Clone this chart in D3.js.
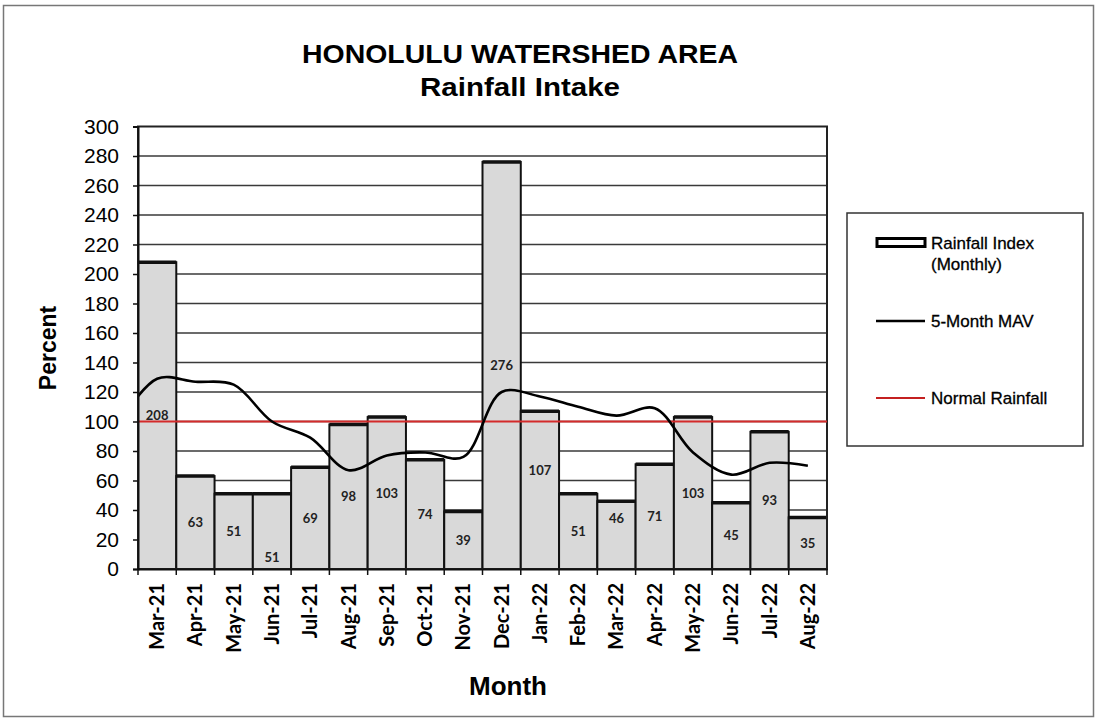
<!DOCTYPE html>
<html>
<head>
<meta charset="utf-8">
<script src="https://cdn.jsdelivr.net/npm/d3@7"></script>
<style>
  html, body { margin: 0; padding: 0; background: #fff; }
  svg { display: block; }
</style>
</head>
<body>
<svg id="chart" width="1098" height="721"></svg>
<script>
// ---- data ----
const months = ["Mar-21","Apr-21","May-21","Jun-21","Jul-21","Aug-21","Sep-21","Oct-21","Nov-21",
                "Dec-21","Jan-22","Feb-22","Mar-22","Apr-22","May-22","Jun-22","Jul-22","Aug-22"];
const rainfallIndex = [208, 63, 51, 51, 69, 98, 103, 74, 39, 276, 107, 51, 46, 71, 103, 45, 93, 35];
// 5-month moving average; first value is the lead-in point (Feb-21)
const mavMonths = ["Feb-21", ...months];
const mavValues = [99, 129, 127, 125, 100, 89, 67, 77, 79, 76, 120, 117, 110, 104, 109, 79, 64, 72, 70];
const normalRainfall = 100;
const yTicks = [0,20,40,60,80,100,120,140,160,180,200,220,240,260,280,300];
// label anchor (in data units) where the label is not centred in its bar
const labelAt = {"Jun-21": 8, "Jan-22": 67, "Mar-22": 34};

// ---- layout ----
const svg = d3.select("#chart");
const L = 138, R = 827, T = 126.5, B = 569;

const x = d3.scaleBand().domain(months).range([L, R]).padding(0);
const y = d3.scaleLinear().domain([0, 300]).range([B, T]);
const bw = x.bandwidth();
const xi = d3.scaleLinear().domain([1, months.length]).range([x(months[0]) + bw/2, x(months[months.length-1]) + bw/2]);

// outer frame
svg.append("rect").attr("x", 3.5).attr("y", 5.5).attr("width", 1090).attr("height", 711)
  .attr("fill", "none").attr("stroke", "#777").attr("stroke-width", 1.5);

// title
svg.append("text").attr("x", 520).attr("y", 63).attr("text-anchor", "middle")
  .attr("font-family", "Liberation Sans, Arial, sans-serif").attr("font-weight", "bold")
  .attr("font-size", 25).attr("textLength", 436).attr("lengthAdjust", "spacingAndGlyphs")
  .text("HONOLULU WATERSHED AREA");
svg.append("text").attr("x", 520).attr("y", 96).attr("text-anchor", "middle")
  .attr("font-family", "Liberation Sans, Arial, sans-serif").attr("font-weight", "bold")
  .attr("font-size", 25).attr("textLength", 200).attr("lengthAdjust", "spacingAndGlyphs")
  .text("Rainfall Intake");

// clip
svg.append("clipPath").attr("id", "plotclip").append("rect")
  .attr("x", L).attr("y", T).attr("width", R - L).attr("height", B - T);

// gridlines
svg.append("g").selectAll("line").data(yTicks.filter(v => v > 0 && v < 300)).join("line")
  .attr("x1", L).attr("x2", R).attr("y1", d => y(d)).attr("y2", d => y(d))
  .attr("stroke", "#3a3a3a").attr("stroke-width", 1.3);

// bars
const bars = svg.append("g");
bars.selectAll("rect").data(months).join("rect")
  .attr("x", d => x(d)).attr("width", bw)
  .attr("y", (d, i) => y(rainfallIndex[i])).attr("height", (d, i) => B - y(rainfallIndex[i]))
  .attr("fill", "#d9d9d9").attr("stroke", "#111").attr("stroke-width", 2);
bars.selectAll("line.top").data(months).join("line").attr("class", "top")
  .attr("x1", d => x(d)).attr("x2", d => x(d) + bw)
  .attr("y1", (d, i) => y(rainfallIndex[i])).attr("y2", (d, i) => y(rainfallIndex[i]))
  .attr("stroke", "#111").attr("stroke-width", 3.5);

// data labels
svg.append("g").selectAll("text").data(months).join("text")
  .attr("x", d => x(d) + bw/2)
  .attr("y", (d, i) => y(labelAt[d] !== undefined ? labelAt[d] : rainfallIndex[i] / 2))
  .attr("dy", "0.35em").attr("text-anchor", "middle")
  .attr("font-family", "Lato, Carlito, sans-serif").attr("font-weight", "bold")
  .attr("font-size", 13).attr("fill", "#222")
  .text((d, i) => rainfallIndex[i]);

// plot border
svg.append("rect").attr("x", L).attr("y", T).attr("width", R - L).attr("height", B - T)
  .attr("fill", "none").attr("stroke", "#222").attr("stroke-width", 2);

// normal rainfall line
svg.append("line").attr("x1", L).attr("x2", R)
  .attr("y1", y(normalRainfall)).attr("y2", y(normalRainfall))
  .attr("stroke", "#d42b2b").attr("stroke-width", 2.2);

// 5-month MAV
const line = d3.line().x((d, i) => xi(i)).y(d => y(d)).curve(d3.curveCatmullRom.alpha(0.5));
svg.append("path").datum(mavValues).attr("clip-path", "url(#plotclip)")
  .attr("d", line).attr("fill", "none").attr("stroke", "#000").attr("stroke-width", 2.6);

// y axis
const yAxis = svg.append("g").attr("transform", `translate(${L},0)`)
  .call(d3.axisLeft(y).tickValues(yTicks).tickSize(5).tickPadding(14));
yAxis.select(".domain").attr("stroke", "#111").attr("stroke-width", 2);
yAxis.selectAll(".tick line").attr("stroke", "#111").attr("stroke-width", 1.5);
yAxis.selectAll(".tick text").attr("font-family", "Liberation Sans, Arial, sans-serif")
  .attr("font-size", 21).attr("fill", "#000");

// x axis
const xAxis = svg.append("g").attr("transform", `translate(0,${B})`)
  .call(d3.axisBottom(x).tickSize(0).tickPadding(0));
xAxis.select(".domain").attr("stroke", "#111").attr("stroke-width", 2);
xAxis.selectAll(".tick text")
  .attr("font-family", "Lato, Carlito, sans-serif").attr("font-weight", "bold")
  .attr("font-size", 20).attr("fill", "#000")
  .attr("text-anchor", "end").attr("dy", "0.35em").attr("y", 0)
  .attr("transform", "translate(0,14) rotate(-90)");
svg.append("g").selectAll("line").data([...months.map(m => x(m)), R]).join("line")
  .attr("x1", d => d).attr("x2", d => d).attr("y1", B).attr("y2", B + 6)
  .attr("stroke", "#111").attr("stroke-width", 1.5);

// axis titles
svg.append("text").attr("transform", "translate(56,348) rotate(-90)").attr("text-anchor", "middle")
  .attr("font-family", "Liberation Sans, Arial, sans-serif").attr("font-weight", "bold")
  .attr("font-size", 23).text("Percent");
svg.append("text").attr("x", 508).attr("y", 695).attr("text-anchor", "middle")
  .attr("font-family", "Liberation Sans, Arial, sans-serif").attr("font-weight", "bold")
  .attr("font-size", 26).text("Month");

// legend
const lg = svg.append("g");
lg.append("rect").attr("x", 847).attr("y", 213).attr("width", 236).attr("height", 233)
  .attr("fill", "#fff").attr("stroke", "#333").attr("stroke-width", 1.5);
lg.append("rect").attr("x", 877).attr("y", 238.5).attr("width", 48).attr("height", 8)
  .attr("fill", "#fff").attr("stroke", "#000").attr("stroke-width", 3);
lg.append("line").attr("x1", 876).attr("x2", 925).attr("y1", 321).attr("y2", 321)
  .attr("stroke", "#000").attr("stroke-width", 2.6);
lg.append("line").attr("x1", 876).attr("x2", 925).attr("y1", 398).attr("y2", 398)
  .attr("stroke", "#c42020").attr("stroke-width", 2.2);
const legendText = [["Rainfall Index", 249], ["(Monthly)", 270], ["5-Month MAV", 327], ["Normal Rainfall", 404]];
lg.selectAll("text").data(legendText).join("text")
  .attr("x", 931).attr("y", d => d[1])
  .attr("font-family", "Liberation Sans, Arial, sans-serif").attr("font-size", 17)
  .attr("fill", "#000").attr("stroke", "#000").attr("stroke-width", 0.3).text(d => d[0]);
</script>
</body>
</html>
